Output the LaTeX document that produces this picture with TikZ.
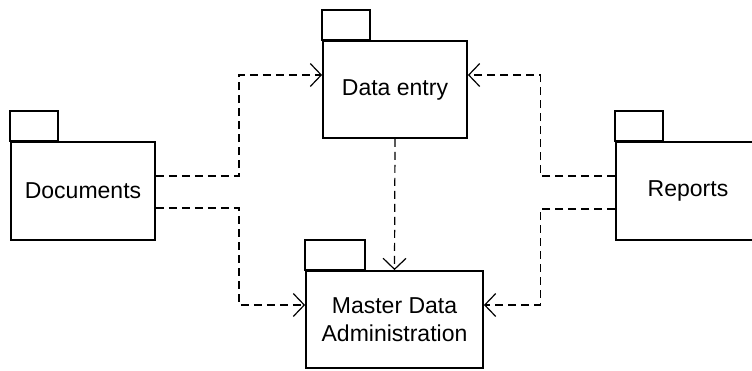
\documentclass[tikz,border=0pt]{standalone}
\usepackage{fontspec}
\setmainfont{Liberation Sans}
\usetikzlibrary{arrows.meta}
\begin{document}
\begin{tikzpicture}[x=1pt,y=-1pt,
  pkg/.style={draw,line width=1.8pt,inner sep=0pt,align=center,
    font=\fontsize{23}{28}\selectfont},
  tabbox/.style={draw,line width=1.8pt},
  dep/.style={dashed,dash pattern=on 8pt off 5pt,line width=1.2pt,
    -{Straight Barb[length=11pt,width=23pt,line width=1.2pt]}}]
\useasboundingbox (0,0) rectangle (752,370);

% package bodies
\node[pkg,minimum width=144pt,minimum height=98pt] (doc) at (83,191) {Documents};
\node[pkg,minimum width=144pt,minimum height=97pt] (data) at (395,89.5) {Data entry};
\node[pkg,minimum width=177pt,minimum height=97pt] (mda) at (394.5,319.5) {Master Data\\Administration};
\node[pkg,minimum width=144pt,minimum height=98pt] (rep) at (688,191) {Reports};

% package tabs
\draw[tabbox] (doc.north west) rectangle ++(48pt,30pt);
\draw[tabbox] (data.north west) rectangle ++(48pt,30pt);
\draw[tabbox] (mda.north west) rectangle ++(60pt,30pt);
\draw[tabbox] (rep.north west) rectangle ++(48pt,30pt);

% dependencies
\draw[dep] ([yshift=15pt]doc.east) -- ++(83pt,0) |- ([yshift=14.5pt]data.west);
\draw[dep] ([yshift=-17pt]doc.east) -- ++(83pt,0) |- ([yshift=14.5pt]mda.west);
\draw[dep] (data.south) -- (mda.north);
\draw[dep] ([yshift=15pt]rep.west) -- ++(-75pt,0) |- ([yshift=14.5pt]data.east);
\draw[dep] ([yshift=-18pt]rep.west) -- ++(-75pt,0) |- ([yshift=14.5pt]mda.east);
\end{tikzpicture}
\end{document}
